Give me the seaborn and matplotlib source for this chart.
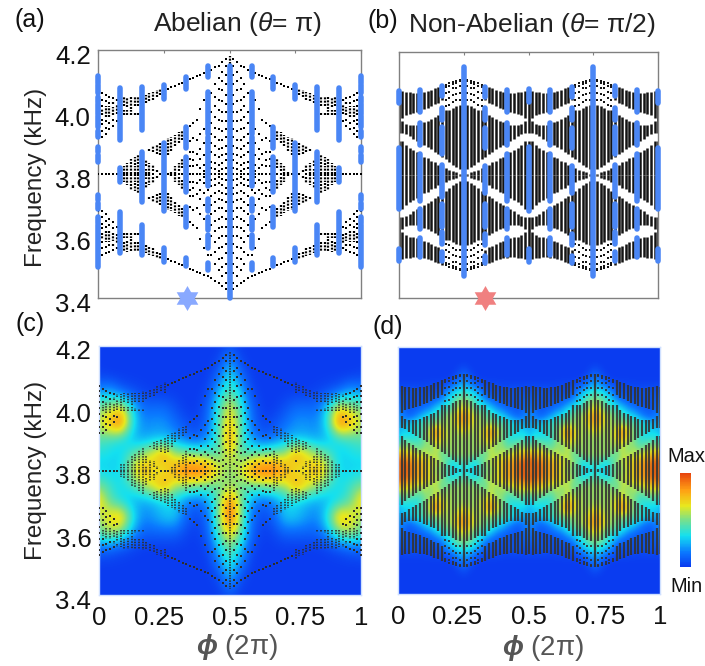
import numpy as np
import pandas as pd
import matplotlib
matplotlib.use("Agg")
import matplotlib.pyplot as plt
from matplotlib.colors import LinearSegmentedColormap
from matplotlib.transforms import ScaledTranslation
import seaborn as sns

sns.set_theme(style="white")
plt.rcParams["font.family"] = ["Liberation Sans", "DejaVu Sans"]
plt.rcParams["mathtext.fontset"] = "custom"
plt.rcParams["mathtext.rm"] = "Liberation Sans"
plt.rcParams["mathtext.it"] = "Liberation Sans:italic"
plt.rcParams["mathtext.bf"] = "Liberation Sans:italic:bold"

W, H = 705, 666
BLUE = "#4a86f5"

# columns are phi = k / 72, frequencies in kHz, upper half only (f >= 3.8)
A_STRIPS = {
    1: [(4.01, 3.99)], 2: [(4.02, 3.985)], 3: [(4.02, 3.985)],
    4: [(4.035, 4.025), (4.015, 3.99)], 5: [(4.045, 4.035), (4.025, 3.995)],
    6: [(4.045, 3.99), (3.82, 3.80)], 7: [(4.05, 4.02), (4.005, 3.99), (3.825, 3.80)],
    8: [(4.05, 4.015), (4.005, 3.99), (3.835, 3.80)],
    9: [(4.05, 4.01), (4.005, 3.99), (3.85, 3.80)],
    10: [(4.05, 4.02), (4.0, 3.99), (3.855, 3.83), (3.825, 3.80)],
    11: [(4.05, 4.02), (3.998, 3.99), (3.865, 3.80)],
    12: [(4.055, 4.02), (3.997, 3.99), (3.875, 3.80)],
    13: [(4.055, 4.03), (3.845, 3.825), (3.815, 3.80)],
    14: [(4.06, 4.035), (3.88, 3.875), (3.835, 3.80)],
    15: [(4.065, 4.04), (3.89, 3.87), (3.83, 3.81)],
    16: [(4.07, 4.05), (3.895, 3.865), (3.815, 3.805)],
    17: [(4.075, 4.055), (3.90, 3.86)],
    18: [(4.085, 4.05), (3.905, 3.855)], 19: [(3.915, 3.86)],
    20: [(3.92, 3.875), (3.81, 3.80)], 21: [(3.925, 3.89), (3.825, 3.80)],
    22: [(3.935, 3.90), (3.835, 3.81)], 23: [(3.94, 3.91), (3.85, 3.82)],
    24: [(3.945, 3.92), (3.865, 3.80)], 36: [(4.18, 3.80)],
}
A_DOTS = {
    0: [4.07, 4.055, 4.04, 4.02, 4.0, 3.98, 3.96, 3.94, 3.92, 3.80],
    1: [4.06, 4.04, 4.02, 3.975, 3.96, 3.94, 3.92, 3.80],
    2: [4.055, 4.035, 3.97, 3.95, 3.93, 3.80], 3: [4.05, 4.03, 3.965, 3.945, 3.80],
    4: [4.045, 3.975, 3.955, 3.80], 5: [3.97, 3.80],
    15: [3.80], 17: [3.80], 18: [3.83, 3.80], 19: [4.075, 3.80],
    20: [4.08], 21: [4.085], 22: [4.09, 3.80], 23: [4.095, 3.80], 24: [4.10],
    25: [4.105, 3.955, 3.905, 3.87, 3.85, 3.825, 3.80],
    26: [4.11, 3.965, 3.915, 3.87, 3.845, 3.825, 3.80],
    27: [4.115, 3.975, 3.91, 3.865, 3.83, 3.80],
    28: [4.12, 4.01, 3.93, 3.88, 3.85, 3.82, 3.80],
    29: [4.125, 4.04, 3.945, 3.90, 3.86, 3.83, 3.81, 3.80],
    30: [4.13, 4.06, 3.96, 3.92, 3.88, 3.85, 3.82, 3.80],
    31: [4.137, 4.06, 4.00, 3.965, 3.93, 3.90, 3.87, 3.84, 3.82, 3.80],
    32: [4.144, 4.09, 4.05, 4.02, 3.985, 3.95, 3.92, 3.89, 3.86, 3.835, 3.815, 3.80],
    33: [4.15, 4.11, 4.075, 4.04, 4.005, 3.975, 3.945, 3.91, 3.88, 3.855, 3.83, 3.81, 3.80],
    34: [4.16, 4.13, 4.10, 4.07, 4.035, 4.0, 3.97, 3.94, 3.91, 3.885, 3.86, 3.835, 3.815, 3.80],
    35: [4.17, 4.15, 4.12, 4.09, 4.055, 4.025, 4.0, 3.97, 3.945, 3.92, 3.89, 3.865, 3.845, 3.82, 3.80],
}
# blue columns at phi = j / 12, full frequency range, j = 0..6
A_BLUE = [
    [(4.116, 4.093), (4.087, 4.06), (4.05, 4.033), (4.027, 3.995), (3.987, 3.952), (3.94, 3.92),
     (3.888, 3.872), (3.861, 3.84), (3.732, 3.716), (3.705, 3.686), (3.66, 3.642), (3.635, 3.50)],
    [(4.076, 3.91), (3.818, 3.775), (3.678, 3.544)],
    [(4.08, 3.942), (3.872, 3.711), (3.635, 3.539)],
    [(4.087, 4.042), (3.899, 3.682), (3.56, 3.517)],
    [(4.112, 4.073), (3.953, 3.883), (3.856, 3.743), (3.695, 3.63), (3.528, 3.503)],
    [(4.148, 4.114), (4.066, 3.93), (3.918, 3.76), (3.72, 3.68), (3.662, 3.62), (3.603, 3.56), (3.512, 3.49)],
    [(4.15, 3.40)],
]

B_STRIPS = {
    0: [(4.071, 3.937), (3.912, 3.80)],
    1: [(4.073, 3.985), (3.976, 3.938), (3.91, 3.80)],
    2: [(4.071, 3.994), (3.966, 3.933), (3.899, 3.80)],
    3: [(4.069, 4.0), (3.962, 3.926), (3.888, 3.80)],
    4: [(4.068, 4.003), (3.962, 3.918), (3.881, 3.80)],
    5: [(4.068, 4.006), (3.963, 3.912), (3.874, 3.80)],
    6: [(4.069, 4.01), (3.968, 3.904), (3.867, 3.80)],
    7: [(4.071, 4.014), (3.972, 3.898), (3.86, 3.80)],
    8: [(4.074, 4.019), (3.976, 3.891), (3.854, 3.80)],
    9: [(4.077, 4.025), (3.982, 3.884), (3.847, 3.80)],
    10: [(4.082, 4.03), (3.987, 3.876), (3.841, 3.80)],
    11: [(4.086, 4.035), (3.996, 3.869), (3.834, 3.80)],
    12: [(4.092, 4.043), (4.012, 3.86), (3.828, 3.80)],
    13: [(4.012, 3.852), (3.822, 3.80)],
    14: [(4.012, 3.843), (3.817, 3.80)],
    15: [(4.017, 3.834), (3.813, 3.80)],
    16: [(4.023, 3.827), (3.809, 3.80)],
    17: [(4.028, 3.818), (3.804, 3.80)],
    18: [(4.113, 3.80)],
}
B_DOTS = {
    13: [4.092, 4.086, 4.066, 4.044, 4.023], 14: [4.098, 4.09, 4.071, 4.049, 4.027],
    15: [4.103, 4.096, 4.082, 4.06, 4.038], 16: [4.105, 4.1, 4.084, 4.065, 4.044],
    17: [4.11, 4.105, 4.088, 4.066, 4.044],
}
# blue columns, j = 0..6 (the rest mirrors about phi = 0.5)
B_BLUE = [
    [(4.072, 4.034), (3.888, 3.689), (3.56, 3.52)],
    [(4.076, 4.006), (3.969, 3.899), (3.869, 3.716), (3.689, 3.625), (3.596, 3.533)],
    [(4.09, 4.057), (4.019, 3.98), (3.955, 3.867), (3.834, 3.727), (3.705, 3.63), (3.614, 3.576), (3.55, 3.52)],
    [(4.15, 3.47)],
    [(4.087, 4.053), (4.017, 3.98), (3.953, 3.888), (3.829, 3.74), (3.705, 3.63), (3.609, 3.571), (3.538, 3.515)],
    [(4.076, 4.006), (3.969, 3.897), (3.869, 3.716), (3.689, 3.625), (3.596, 3.539)],
    [(4.08, 4.039), (3.892, 3.682), (3.56, 3.518)],
]

# heat maps read by eye, 0 = Min, 1 = Max
C_FREQ = [4.20, 4.15, 4.10, 4.05, 4.00, 3.95, 3.90, 3.85, 3.80, 3.75, 3.70, 3.65, 3.60, 3.55, 3.50, 3.45, 3.40]
C_HEAT = [  # rows top to bottom, columns phi = 0..12/24
    [0, 0, 0, 0, 0, 0, 0, 0, 0, 0, 0, 0, .03],
    [0, 0, 0, 0, 0, 0, 0, 0, 0, 0, 0, .02, .22],
    [.02, 0, 0, 0, 0, 0, 0, 0, 0, 0, 0, .12, .38],
    [.2, .25, .1, .05, .02, 0, 0, 0, 0, 0, .03, .28, .45],
    [.5, .55, .7, .35, .12, .12, .12, .05, 0, 0, .1, .4, .7],
    [.6, .82, .98, .4, .18, .2, .2, .12, .05, .02, .12, .45, .75],
    [.45, .4, .35, .25, .22, .25, .25, .22, .12, .08, .2, .42, .9],
    [.35, .33, .3, .45, .55, .7, .88, .55, .55, .5, .45, .42, .7],
    [.3, .3, .32, .6, .85, .65, .6, .85, .98, 1, .95, .65, .5],
    [.5, .4, .32, .4, .55, .7, .88, .55, .55, .5, .45, .45, .55],
    [.75, .45, .33, .25, .22, .25, .3, .3, .15, .1, .2, .5, .95],
    [.55, .7, .82, .4, .18, .22, .3, .3, .1, .03, .12, .52, 1],
    [.45, .6, .5, .25, .1, .1, .1, .1, .03, 0, .1, .45, .75],
    [.12, .1, .05, .02, 0, 0, 0, 0, 0, 0, .03, .3, .5],
    [0, 0, 0, 0, 0, 0, 0, 0, 0, 0, 0, .15, .4],
    [0, 0, 0, 0, 0, 0, 0, 0, 0, 0, 0, .03, .25],
    [0, 0, 0, 0, 0, 0, 0, 0, 0, 0, 0, 0, .05],
]
D_HEAT = [  # rows from 4.2 down to 3.8 in 0.025 steps, columns phi = 0..12/48
    [0, 0, 0, 0, 0, 0, 0, 0, 0, 0, 0, 0, 0],
    [0, 0, 0, 0, 0, 0, 0, 0, 0, 0, 0, 0, 0],
    [0, 0, 0, 0, 0, 0, 0, 0, 0, 0, 0, 0, 0],
    [0, 0, 0, 0, 0, 0, 0, 0, 0, 0, 0, .02, .05],
    [0, 0, 0, 0, 0, 0, 0, 0, 0, 0, .02, .08, .15],
    [.02, .02, .02, .02, .02, .02, .03, .03, .04, .05, .12, .2, .25],
    [.08, .06, .08, .08, .06, .06, .06, .06, .08, .2, .3, .35, .4],
    [.1, .1, .06, .06, .06, .06, .08, .12, .2, .3, .4, .5, .55],
    [.15, .12, .06, .08, .1, .15, .2, .3, .35, .4, .45, .6, .65],
    [.2, .15, .1, .14, .22, .3, .35, .42, .48, .55, .6, .75, .85],
    [.22, .25, .3, .35, .4, .45, .5, .55, .55, .55, .6, .7, .8],
    [.25, .3, .3, .35, .4, .5, .7, .85, .7, .6, .55, .6, .65],
    [.3, .4, .38, .35, .4, .5, .6, .75, .65, .6, .55, .55, .55],
    [.5, .55, .55, .5, .45, .55, .5, .6, .55, .55, .55, .55, .55],
    [.8, .75, .7, .65, .6, .6, .55, .6, .45, .5, .55, .55, .55],
    [.95, .95, .9, .82, .78, .72, .65, .6, .55, .4, .3, .4, .45],
    [.85, .95, .9, .82, .78, .7, .62, .55, .5, .45, .35, .3, .32],
]
CBAR_COLORS = ["#0a3cf0", "#0a78ff", "#14e0f0", "#78e08c", "#e8e81e", "#ffa014", "#e8460f"]
CBAR_STOPS = [0, .15, .33, .5, .65, .82, 1]
heat_cmap = LinearSegmentedColormap.from_list("heat", list(zip(CBAR_STOPS, CBAR_COLORS)))


def add_panel(fig, left, top, right, bottom):
    return fig.add_axes([left / W, 1 - bottom / H, (right - left) / W, (bottom - top) / H])


def expand_a(table, is_strip):
    # mirror about 3.8 kHz and about phi = 0.5
    rows = []
    for k, items in table.items():
        for col in {k, 72 - k}:
            for it in items:
                if is_strip:
                    rows += [(col / 72, it[0], it[1]), (col / 72, 7.6 - it[0], 7.6 - it[1])]
                else:
                    rows += [(col / 72, it), (col / 72, 7.6 - it)]
    return rows


def expand_b(table, is_strip):
    # mirror about 3.8 kHz and about phi = 0.25, 0.5, 0.75
    rows = []
    for k, items in table.items():
        for col in {k, 36 - k, 36 + k, 72 - k}:
            for it in items:
                if is_strip:
                    rows += [(col / 72, it[0], it[1]), (col / 72, 7.6 - it[0], 7.6 - it[1])]
                else:
                    rows += [(col / 72, it), (col / 72, 7.6 - it)]
    return rows


def draw_blue(ax, table):
    for j in range(13):
        col = table[j if j <= 6 else 12 - j]
        for hi, lo in col:
            ax.vlines(j / 12, lo, hi, color=BLUE, lw=4.0, capstyle="round", clip_on=False, zorder=4)


def draw_bands(ax, strips, dots, lw, ls, color, size, alpha=1.0):
    s = pd.DataFrame(strips, columns=["phi", "hi", "lo"])
    ax.vlines(s["phi"], s["lo"], s["hi"], color=color, lw=lw, linestyles=ls, alpha=alpha, zorder=2)
    d = pd.DataFrame(dots, columns=["phi", "freq"])
    sns.scatterplot(data=d, x="phi", y="freq", color=color, s=size, marker="s", linewidth=0,
                    alpha=alpha, ax=ax, legend=False, zorder=3)


def style_axes(ax, left_labels, x_labels=None, spine="#808080"):
    ax.set_xlim(0, 1)
    ax.set_ylim(3.4, 4.2)
    ax.set_xlabel("")
    ax.set_ylabel("")
    ax.set_yticks([3.4, 3.6, 3.8, 4.0, 4.2])
    ax.set_xticks([0, .25, .5, .75, 1])
    ax.set_yticklabels(["3.4", "3.6", "3.8", "4.0", "4.2"] if left_labels else [], fontsize=18.5, color="#111111")
    ax.set_xticklabels(x_labels if x_labels else [], fontsize=18.5, color="#111111")
    ax.tick_params(axis="both", direction="in", length=2, width=0.8, color=spine, top=True, pad=5.5)
    ax.tick_params(axis="y", length=0, pad=5.5)
    ax.tick_params(axis="x", pad=8)
    for sp in ax.spines.values():
        sp.set_color(spine)
        sp.set_linewidth(1.0)
        sp.set_visible(True)
    if left_labels:
        for lab in ax.get_yticklabels():
            lab.set_transform(lab.get_transform() + ScaledTranslation(0, -3 / 72, ax.figure.dpi_scale_trans))


def shift_xlabels(ax, offsets):
    for lab, dx in zip(ax.get_xticklabels(), offsets):
        lab.set_transform(lab.get_transform() + ScaledTranslation(dx / 100, 0, ax.figure.dpi_scale_trans))


def draw_star(ax, phi, color):
    for mk in [(3, 0, 0), (3, 0, 180)]:
        ax.plot([phi], [3.4], marker=mk, ms=18, color=color, mew=0, clip_on=False, zorder=6)


def put(fig, x, y, s, **kw):
    kw.setdefault("ha", "center")
    kw.setdefault("va", "center")
    fig.text(x / W, 1 - y / H, s, **kw)


a_strips, a_dots = expand_a(A_STRIPS, True), expand_a(A_DOTS, False)
b_strips, b_dots = expand_b(B_STRIPS, True), expand_b(B_DOTS, False)

fig = plt.figure(figsize=(W / 100, H / 100), dpi=100)

ax_a = add_panel(fig, 98.3, 50, 361, 298)
draw_bands(ax_a, a_strips, a_dots, 1.6, (0, (0.9, 0.6)), "black", 2.5)
draw_blue(ax_a, A_BLUE)
style_axes(ax_a, True)
draw_star(ax_a, 0.337, "#89a9ff")

ax_b = add_panel(fig, 398.7, 52, 658.3, 298)
draw_bands(ax_b, b_strips, b_dots, 1.8, "solid", "#141414", 2.5)
draw_blue(ax_b, B_BLUE)
style_axes(ax_b, False)
draw_star(ax_b, 0.333, "#f08080")

# (c) columns read up to phi = 0.5, rest mirrored
ax_c = add_panel(fig, 99, 345.7, 361, 595.3)
c_half = np.array(C_HEAT)
c_full = np.hstack([c_half, c_half[:, -2::-1]])
ax_c.imshow(c_full, cmap=heat_cmap, vmin=0, vmax=1, aspect="auto", interpolation="bicubic",
            extent=(-1 / 48, 1 + 1 / 48, min(C_FREQ) - .025, max(C_FREQ) + .025), zorder=1)
draw_bands(ax_c, a_strips, a_dots, 1.2, (0, (0.9, 0.7)), "#2e2e2e", 2.5)
style_axes(ax_c, True, ["0", "0.25", "0.5", "0.75", "1"], spine="#cfe0ff")
shift_xlabels(ax_c, [0, -5, 0, 5, 0])

# (d) one quarter of the period read, rest mirrored
ax_d = add_panel(fig, 398, 346.7, 660.3, 594.3)
d_top = np.array(D_HEAT)
d_quarter = np.vstack([d_top, d_top[-2::-1]])
d_half = np.hstack([d_quarter, d_quarter[:, -2::-1]])
d_full = np.hstack([d_half, d_half[:, -2::-1]])
ax_d.imshow(d_full, cmap=heat_cmap, vmin=0, vmax=1, aspect="auto", interpolation="bicubic",
            extent=(-1 / 96, 1 + 1 / 96, 3.4 - .0125, 4.2 + .0125), zorder=1)
draw_bands(ax_d, b_strips, b_dots, 1.6, "solid", "#333333", 2.5, alpha=0.9)
style_axes(ax_d, False, ["0", "0.25", "0.5", "0.75", "1"], spine="#cfe0ff")
shift_xlabels(ax_d, [0, -7, 0, 5, 0])

# colour scale
ax_cb = add_panel(fig, 680.3, 473, 691, 567)
sns.heatmap(np.linspace(1, 0, 120)[:, None], cmap=heat_cmap, vmin=0, vmax=1, cbar=False,
            xticklabels=False, yticklabels=False, ax=ax_cb)

put(fig, 30, 20, "(a)", fontsize=18, color="#111111")
put(fig, 383, 21, "(b)", fontsize=18, color="#111111")
put(fig, 30, 324, "(c)", fontsize=18, color="#111111")
put(fig, 388, 327, "(d)", fontsize=18, color="#111111")
put(fig, 237, 24, "Abelian ($\\theta$= π)", fontsize=19, color="#222222")
put(fig, 531.7, 25, "Non-Abelian ($\\theta$= π/2)", fontsize=19, color="#222222")
put(fig, 36, 177, "Frequency (kHz)", fontsize=17.5, rotation=90, color="#222222")
put(fig, 36, 470, "Frequency (kHz)", fontsize=17.5, rotation=90, color="#222222")
put(fig, 237, 647, "$\\mathbf{\\phi}$ (2π)", fontsize=20, color="#555555")
put(fig, 543, 648, "$\\mathbf{\\phi}$ (2π)", fontsize=20, color="#555555")
put(fig, 686, 456, "Max", fontsize=14.4, color="#111111")
put(fig, 686, 587, "Min", fontsize=14.4, color="#111111")

fig.savefig("out.png", dpi=100)
